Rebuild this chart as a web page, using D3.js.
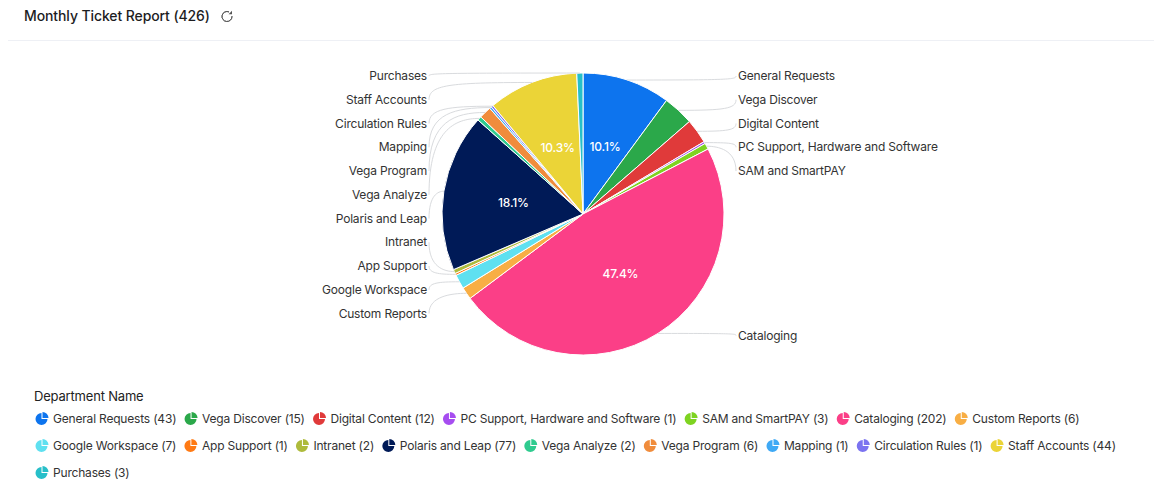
<!DOCTYPE html>
<html lang="en">
    <head>
        <meta charset="utf-8">
        <title>Monthly Ticket Report</title>
        <script src="https://d3js.org/d3.v7.min.js"></script>
        <style type="text/css">
        body {
            margin: 0;
            background-color: white;
            overflow: hidden;
        }
        text {
            font-family: Inter, "Noto Sans", sans-serif;
            letter-spacing: -0.19px;
        }
        </style>
    </head>
    <body>
        <svg width="1154" height="497"></svg>
        <script type="text/javascript">
            const departments = ["General Requests", "Vega Discover", "Digital Content", "PC Support, Hardware and Software", "SAM and SmartPAY", "Cataloging", "Custom Reports", "Google Workspace", "App Support", "Intranet", "Polaris and Leap", "Vega Analyze", "Vega Program", "Mapping", "Circulation Rules", "Staff Accounts", "Purchases"];
            const tickets = [43, 15, 12, 1, 3, 202, 6, 7, 1, 2, 77, 2, 6, 1, 1, 44, 3];
            const colors = ["#0d74ee", "#2ba84a", "#e03a3a", "#a64df0", "#7ed321", "#fb3f87", "#f8ae44", "#5fe0f0", "#ff7a14", "#aebb3c", "#001a57", "#2fcb8f", "#f08c3c", "#3fa9f5", "#7b73f0", "#ebd437", "#27bfc9"];

            const svg = d3.select("svg");
            const cx = 583, cy = 214, radius = 141;
            const total = d3.sum(tickets);
            const rows = departments.map((name, i) => ({name, value: tickets[i], color: colors[i]}));

            // header
            svg.append("text").attr("x", 24).attr("y", 21)
               .style("font-size", "14px").style("font-weight", 500).style("fill", "#1d1d1f")
               .style("letter-spacing", "-0.1px")
               .text("Monthly Ticket Report (" + total + ")");
            svg.append("path")
               .attr("d", d3.arc()({innerRadius: 5, outerRadius: 5, startAngle: 1.5, endAngle: 6.7}))
               .attr("transform", "translate(227,16.5)")
               .style("fill", "none").style("stroke", "#555").style("stroke-width", 0.9);
            svg.append("path").attr("d", "M232 10.8v3.4h-3.4z").style("fill", "#555");
            svg.append("line").attr("x1", 8).attr("x2", 1154).attr("y1", 40.5).attr("y2", 40.5)
               .style("stroke", "#eef0f5");

            // pie
            const pie = d3.pie().value(d => d.value).sort(null);
            const arc = d3.arc().innerRadius(0).outerRadius(radius);
            const arcs = pie(rows);
            const g = svg.append("g").attr("transform", `translate(${cx},${cy})`);

            g.selectAll("path.slice").data(arcs).enter().append("path")
             .attr("class", "slice")
             .attr("d", arc)
             .style("fill", d => d.data.color)
             .style("stroke", "white")
             .style("stroke-width", 1);

            g.selectAll("text.pct").data(arcs.filter(d => d.data.value / total >= 0.1)).enter().append("text")
             .attr("class", "pct")
             .attr("transform", d => `translate(${arc.centroid(d)})`)
             .attr("text-anchor", "middle").attr("dy", "0.35em")
             .style("font-size", "12px").style("font-weight", 500).style("fill", "white")
             .text(d => (d.data.value / total * 100).toFixed(1) + "%");

            // labels: stacked rows from the top of each side, a slice far below the stack keeps its own height
            const rowTop = 76, rowStep = 23.75;
            const rim = d => {
                const mid = (d.startAngle + d.endAngle) / 2;
                return [cx + radius * Math.sin(mid), cy - radius * Math.cos(mid)];
            };
            const right = arcs.filter(d => (d.startAngle + d.endAngle) / 2 < Math.PI);
            const left = arcs.filter(d => (d.startAngle + d.endAngle) / 2 >= Math.PI).reverse();
            const labelled = [];
            [[right, 1], [left, -1]].forEach(([side, dir]) => {
                side.forEach((d, i) => {
                    const [sx, sy] = rim(d);
                    const stacked = rowTop + i * rowStep;
                    const y = dir > 0 && sy - stacked > 40 ? sy + 2 : stacked;
                    labelled.push({d, dir, sx, sy, y, x: dir > 0 ? 738 : 427});
                });
            });

            svg.selectAll("path.link").data(labelled).enter().append("path")
               .attr("class", "link")
               .attr("d", l => {
                   const ex = l.x - l.dir * 2;
                   // keep the first handle between the rim and the label so the line never runs back into the pie
                   const bend = Math.min(Math.abs(l.y - l.sy) * 1.1, 26, Math.abs(ex - l.sx) * 0.6);
                   const kx = ex - l.dir * bend;
                   return `M${l.sx},${l.sy}C${kx},${l.sy} ${ex},${(l.sy + l.y) / 2 + (l.sy - l.y) * 0.35} ${ex},${l.y}`;
               })
               .style("fill", "none").style("stroke", "#d9dbde").style("stroke-width", 1);

            svg.selectAll("text.name").data(labelled).enter().append("text")
               .attr("class", "name")
               .attr("x", l => l.x).attr("y", l => l.y).attr("dy", "0.35em")
               .attr("text-anchor", l => l.dir > 0 ? "start" : "end")
               .style("font-size", "12px").style("fill", "#333")
               .text(l => l.d.data.name);

            // legend
            svg.append("text").attr("x", 34).attr("y", 401)
               .style("font-size", "13px").style("fill", "#222").text("Department Name");

            const iconBody = d3.arc().innerRadius(0).outerRadius(6)({startAngle: Math.PI / 2, endAngle: Math.PI * 2});
            const iconWedge = d3.arc().innerRadius(0).outerRadius(6)({startAngle: 0, endAngle: Math.PI / 2});
            let lx = 35, ly = 419;
            rows.forEach(r => {
                const item = svg.append("g");
                const body = item.append("path").attr("d", iconBody).style("fill", r.color);
                const wedge = item.append("path").attr("d", iconWedge).style("fill", r.color);
                const label = item.append("text").attr("dy", "0.35em")
                    .style("font-size", "12px").style("fill", "#333")
                    .text(`${r.name} (${r.value})`);
                const w = 18 + label.node().getComputedTextLength() + 7.7;
                if (lx + w > 1135) {
                    lx = 35;
                    ly += 27;
                }
                body.attr("transform", `translate(${lx + 6.5},${ly})`);
                wedge.attr("transform", `translate(${lx + 7.5},${ly - 1})`);
                label.attr("x", lx + 18).attr("y", ly);
                lx += w;
            });
        </script>
    </body>
</html>
